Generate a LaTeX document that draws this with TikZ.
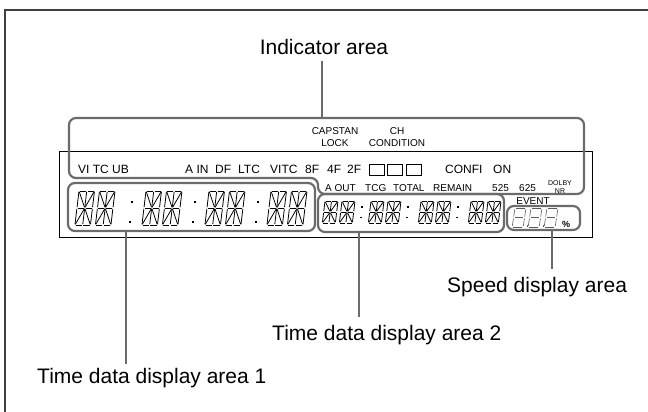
\documentclass[tikz,border=0pt]{standalone}
\usepackage{fontspec}
\setmainfont{Liberation Sans}
\usetikzlibrary{calc}

\tikzset{
  segline/.style={line width=0.8pt, shorten >=0.8pt, shorten <=0.8pt},
  hollowseg/.style={draw=black!65, line width=0.6pt},
  % one 16 segment character, all segments lit
  seg16/.pic={
    \foreach \xa/\ya/\xb/\yb in {0/0/0.5/0, 0.5/0/1/0, 0/0/0/1, 0/1/0/2, 1/0/1/1, 1/1/1/2,
      0/2/0.5/2, 0.5/2/1/2, 0/1/0.5/1, 0.5/1/1/1, 0.5/0/0.5/1, 0.5/1/0.5/2,
      0/0/0.5/1, 1/0/0.5/1, 0/2/0.5/1, 1/2/0.5/1}
      \draw[segline] (\xa,\ya) -- (\xb,\yb);
  },
  % one 7 segment digit
  seg7/.pic={
    \foreach \xa/\ya/\xb/\yb in {0.12/0/0.88/0, 1/0.1/1/0.9, 1/1.1/1/1.9, 0.12/2/0.88/2,
      0/1.1/0/1.9, 0/0.1/0/0.9, 0.12/1/0.88/1}
      \draw[hollowseg] (\xa,\ya) -- (\xb,\yb);
  }
}

\begin{document}
\begin{tikzpicture}[x=1pt, y=-1pt,
  outline/.style={draw=black!75, line width=1.4pt},
  area/.style={draw=black!58, line width=2.2pt, rounded corners=7pt},
  leader/.style={draw=black!58, line width=2.2pt},
  arealbl/.style={inner sep=0pt, anchor=base west, font=\fontsize{21}{25}\selectfont},
  indtxt/.style={inner sep=0pt, anchor=base west, font=\fontsize{12}{14}\selectfont},
  subtxt/.style={inner sep=0pt, anchor=base west, font=\fontsize{10}{12}\selectfont},
  bigchar/.style={x=15.5pt, y=-17pt, xslant=0.12},
  smallchar/.style={x=13pt, y=-11pt, xslant=0.12},
  speedchar/.style={x=11pt, y=-9.5pt, xslant=0.15}]

\useasboundingbox (0,0) rectangle (648,412);
\draw[outline] (5,412) -- (5,10) -- (648,10);

% display window
\draw[black, line width=0.9pt] (59,151) rectangle (592,237);

% indicators, first row
\foreach \px/\txt in {78/VI TC UB, 185/A IN, 215/DF, 238/LTC, 270/VITC, 305/8F, 327/4F, 347/2F, 445/CONFI, 493/ON}
  \node[indtxt] at (\px,173) {\txt};
\foreach \px in {369,387,406}
  \draw[black, line width=0.6pt] (\px,164) rectangle ++(15,11);
\node[subtxt, anchor=north, align=center] (capstan) at (335,127) {CAPSTAN\\LOCK};
\node[subtxt, anchor=north, align=center] (chcond) at (397,127) {CH\\CONDITION};

% indicators, second row
\foreach \px/\txt in {325/A OUT, 365/TCG, 393/TOTAL, 433/REMAIN, 492/525, 519/625}
  \node[subtxt] at (\px,191.5) {\txt};
\node[inner sep=0pt, anchor=base, font=\fontsize{7}{8}\selectfont] (dolby) at (560,185) {DOLBY};
\node[inner sep=0pt, anchor=base, font=\fontsize{7}{8}\selectfont] (nr) at (560,193) {NR};
\node[subtxt, anchor=base] (event) at (533,204) {EVENT};

% time data 1
\foreach \gx in {79,146,209,271} {
  \path (\gx,191) pic[bigchar] {seg16};
  \path (\gx+20.5,191) pic[bigchar] {seg16};
}
\foreach \cx in {131,194,257} {
  \fill (\cx,200.5) rectangle ++(2.4,2.4);
  \fill (\cx-2,220.5) rectangle ++(2.4,2.4);
}

% time data 2
\foreach \gx in {325,371,421,471} {
  \path (\gx,201) pic[smallchar] {seg16};
  \path (\gx+17,201) pic[smallchar] {seg16};
}
\foreach \cx in {361,407,457} {
  \fill (\cx,206) rectangle ++(1.8,1.8);
  \fill (\cx-1,216.5) rectangle ++(1.8,1.8);
}

% speed
\foreach \dx in {515,531,547}
  \path (\dx,208) pic[speedchar] {seg7};
\foreach \dx in {526.5,542.5}
  \fill[black!65] (\dx,225) rectangle ++(1.6,1.6);
\node[inner sep=0pt, anchor=base west, font=\fontsize{9}{10}\selectfont\bfseries] (pct) at (562,227) {\%};

% areas
\draw[area] (69,118) -- (584,118) -- (584,194) -- (318,194) -- (318,178) -- (69,178) -- cycle;
\draw[area] (68,183) rectangle (315,231);
\draw[area] (318,194) rectangle (504,232);
\draw[area] (507,206) rectangle (580,230);

% labels
\node[arealbl, anchor=base] (indlbl) at (324,55) {Indicator area};
\node[arealbl] (t1lbl) at (37,383) {Time data display area 1};
\node[arealbl] (t2lbl) at (272,340) {Time data display area 2};
\node[arealbl] (splbl) at (447,292) {Speed display area};

\coordinate (indtap) at (322,118);
\coordinate (t1tap) at (126,231);
\coordinate (t2tap) at (359,232);
\coordinate (sptap) at (552,230);

\draw[leader, shorten <=6pt] (indlbl.south -| indtap) -- (indtap);
\draw[leader, shorten >=4pt] (t1tap) -- (t1tap |- t1lbl.north);
\draw[leader, shorten >=8pt] (t2tap) -- (t2tap |- t2lbl.north);
\draw[leader, shorten >=8pt] (sptap) -- (sptap |- splbl.north);

\end{tikzpicture}
\end{document}
